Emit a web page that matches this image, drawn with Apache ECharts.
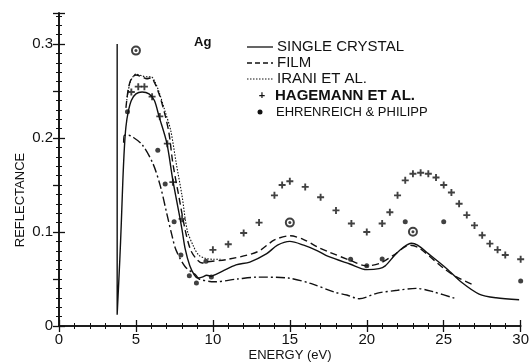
<!DOCTYPE html>
<html><head><meta charset="utf-8">
<script src="https://cdn.jsdelivr.net/npm/echarts@6/dist/echarts.min.js"></script>
<style>html,body{margin:0;padding:0;background:#fff}#c{width:532px;height:363px}</style>
</head><body><div id="c"></div>
<script>
// ---- data (energy eV, reflectance) ----
const singleCrystal = [[3.78,0.300],[3.78,0.012],[3.95,0.07],[4.05,0.11],[4.15,0.155],[4.25,0.19],[4.35,0.212],[4.5,0.228],[4.7,0.240],[5.0,0.247],[5.4,0.249],[5.85,0.247],[6.2,0.240],[6.5,0.223],[7.0,0.195],[7.4,0.155],[7.8,0.120],[8.0,0.102],[8.2,0.082],[8.5,0.064],[8.8,0.054],[9.0,0.051],[9.3,0.052],[9.6,0.054],[9.9,0.053],[10.2,0.055],[10.6,0.058],[11.5,0.065],[12.4,0.068],[13.5,0.077],[14.2,0.086],[15.0,0.090],[15.9,0.086],[16.8,0.080],[17.5,0.074],[18.9,0.066],[20.0,0.060],[20.8,0.061],[21.2,0.064],[21.8,0.075],[22.4,0.084],[22.9,0.088],[23.3,0.086],[24.0,0.077],[25.2,0.061],[26.2,0.046],[27.3,0.034],[28.4,0.030],[29.9,0.028]];
const film = [[4.35,0.232],[4.5,0.252],[4.7,0.263],[5.0,0.267],[5.4,0.265],[5.7,0.263],[6.0,0.264],[6.2,0.259],[6.5,0.247],[6.9,0.224],[7.15,0.205],[7.4,0.173],[7.8,0.137],[8.2,0.102],[8.55,0.081],[8.9,0.072],[9.3,0.067],[9.5,0.068],[11.0,0.071],[12.9,0.079],[14.0,0.0915],[15.0,0.096],[15.9,0.092],[16.8,0.084],[17.5,0.079],[18.9,0.070],[20.0,0.064],[20.9,0.067],[21.75,0.0755],[22.8,0.086],[23.4,0.083],[25.0,0.0614],[25.8,0.0525],[26.9,0.044]];
const irani = [[4.4,0.24],[4.6,0.258],[4.8,0.265],[5.0,0.268],[5.4,0.266],[5.8,0.265],[6.0,0.265],[6.2,0.261],[6.5,0.249],[6.9,0.228],[7.26,0.208],[7.62,0.173],[8.0,0.138],[8.33,0.102],[8.76,0.084],[9.08,0.0755],[9.5,0.072],[10.0,0.071],[10.5,0.071]];
const fourthCurve = [[4.2,0.195],[4.25,0.203],[4.5,0.203],[4.8,0.201],[5.4,0.193],[6.1,0.173],[6.6,0.148],[7.0,0.12],[7.36,0.095],[7.6,0.081],[8.2,0.063],[8.9,0.054],[9.1,0.050],[10.1,0.047],[11.6,0.050],[12.9,0.052],[14.9,0.051],[16.4,0.045],[17.9,0.036],[18.7,0.033],[19.5,0.029],[20.7,0.035],[22.0,0.038],[23.2,0.040],[24.3,0.0365],[25.8,0.029]];
const hagemann = [[4.7,0.249],[5.15,0.2546],[5.55,0.2546],[6.05,0.244],[6.55,0.223],[7.04,0.194],[7.4,0.153],[8.0,0.114],[10.0,0.081],[11.0,0.087],[12.0,0.099],[13.0,0.110],[14.0,0.139],[14.5,0.150],[15.0,0.154],[16.0,0.148],[17.0,0.137],[18.0,0.123],[19.0,0.109],[20.0,0.100],[21.0,0.109],[21.5,0.121],[22.0,0.139],[22.5,0.155],[23.0,0.162],[23.5,0.163],[24.0,0.162],[24.5,0.158],[25.0,0.150],[25.5,0.142],[26.0,0.130],[26.5,0.118],[27.0,0.107],[27.5,0.0965],[28.0,0.0876],[28.5,0.081],[29.0,0.0755],[30.0,0.071]];
const ehrenreich = [[4.45,0.228],[6.42,0.187],[6.9,0.151],[7.48,0.111],[7.92,0.0755],[8.47,0.0535],[8.93,0.0458],[9.55,0.069],[9.9,0.052],[18.95,0.071],[20.0,0.064],[21.0,0.0714],[22.5,0.111],[25.0,0.111],[30.0,0.048]];
const ehrenreichCircled = [[5.0,0.293],[15.0,0.110],[23.0,0.1003]];
const xTicks = [0,5,10,15,20,25,30];
const yTicks = [0,0.1,0.2,0.3];

const chart = echarts.init(document.getElementById('c'));
const FONT = 'Liberation Sans';
const lineS = (type) => ({color:'#111', width:1.4, type:type});
const axisLine = {show:true, lineStyle:{color:'#111', width:1.6}};
const axisTick = {show:true, inside:true, length:6, lineStyle:{color:'#111', width:1.3}};
const minor = (n) => ({show:true, splitNumber:n, length:3, lineStyle:{color:'#111', width:1}});
const plus = 'path://M-0.8,-3H0.8V-0.8H3V0.8H0.8V3H-0.8V0.8H-3V-0.8H-0.8Z';
chart.setOption({
  animation:false,
  backgroundColor:'#fff',
  grid:{left:59, right:7, top:13, bottom:37},
  xAxis:[
    {type:'value', min:0, max:30, interval:5, position:'bottom',
      axisLine:axisLine, axisTick:axisTick, minorTick:minor(5), splitLine:{show:false},
      axisLabel:{fontFamily:FONT, fontSize:15, color:'#111', margin:6,
        formatter:v=>xTicks.includes(v)?String(v):''}},
    {type:'value', min:0, max:30, interval:5, position:'top',
      axisLine:axisLine, axisTick:axisTick, minorTick:minor(5),
      axisLabel:{show:false}, splitLine:{show:false}}
  ],
  yAxis:[
    {type:'value', min:0, max:0.333, interval:0.1, position:'left',
      axisLine:axisLine, axisTick:axisTick, minorTick:minor(10), splitLine:{show:false},
      axisLabel:{fontFamily:FONT, fontSize:15, color:'#111', margin:6, showMaxLabel:false,
        formatter:v=>{const m=yTicks.find(t=>Math.abs(t-v)<1e-6); return m===undefined?'':(m===0?'0':String(m));}}},
    {type:'value', min:0, max:0.333, interval:0.05, position:'right',
      axisLine:axisLine, axisTick:axisTick, minorTick:minor(5),
      axisLabel:{show:false}, splitLine:{show:false}}
  ],
  series:[
    {type:'line', data:singleCrystal, smooth:0.3, showSymbol:false, lineStyle:lineS('solid')},
    {type:'line', data:film, smooth:0.3, showSymbol:false, lineStyle:lineS([7,4])},
    {type:'line', data:irani, smooth:0.3, showSymbol:false, lineStyle:{color:'#111', width:1.1, type:[1.5,1.5]}},
    {type:'line', data:fourthCurve, smooth:0.3, showSymbol:false, lineStyle:lineS([9,3,2,3])},
    {type:'scatter', data:hagemann, symbol:plus, symbolSize:7, itemStyle:{color:'#111'}},
    {type:'scatter', data:ehrenreich, symbol:'circle', symbolSize:5, itemStyle:{color:'#111'}},
    {type:'scatter', data:ehrenreichCircled, symbol:'emptyCircle', symbolSize:8, itemStyle:{color:'#111', borderColor:'#111', borderWidth:1.3}},
    {type:'scatter', data:ehrenreichCircled, symbol:'circle', symbolSize:3, itemStyle:{color:'#111'}}
  ],
  graphic:[
    {type:'text', left:194, top:36, style:{text:'Ag', font:'bold 13px '+FONT, fill:'#111'}},
    {type:'line', shape:{x1:247,y1:47,x2:273,y2:47}, style:{stroke:'#111', lineWidth:1.3}},
    {type:'text', x:277, y:47, style:{text:'SINGLE CRYSTAL', font:'15px '+FONT, fill:'#111', verticalAlign:'middle'}},
    {type:'line', shape:{x1:247,y1:63,x2:273,y2:63}, style:{stroke:'#111', lineWidth:1.3, lineDash:[5,3]}},
    {type:'text', x:277, y:63, style:{text:'FILM', font:'15px '+FONT, fill:'#111', verticalAlign:'middle'}},
    {type:'line', shape:{x1:247,y1:79,x2:273,y2:79}, style:{stroke:'#111', lineWidth:1, lineDash:[1.5,1.5]}},
    {type:'text', x:277, y:79, style:{text:'IRANI ET AL.', font:'15px '+FONT, fill:'#111', verticalAlign:'middle'}},
    {type:'text', x:262, y:96, style:{text:'+', font:'bold 11px '+FONT, fill:'#111', align:'center', verticalAlign:'middle'}},
    {type:'text', x:275, y:96, style:{text:'HAGEMANN ET AL.', font:'bold 15px '+FONT, fill:'#111', verticalAlign:'middle'}},
    {type:'circle', shape:{cx:260, cy:112, r:2.5}, style:{fill:'#111'}},
    {type:'text', x:276, y:112, style:{text:'EHRENREICH & PHILIPP', font:'13px '+FONT, fill:'#111', verticalAlign:'middle'}},
    {type:'text', x:290, y:355, style:{text:'ENERGY (eV)', font:'13px '+FONT, fill:'#111', align:'center', verticalAlign:'middle'}},
    {type:'text', x:20, y:200, rotation:Math.PI/2, style:{text:'REFLECTANCE', font:'13px '+FONT, fill:'#111', align:'center', verticalAlign:'middle'}}
  ]
});
</script></body></html>
